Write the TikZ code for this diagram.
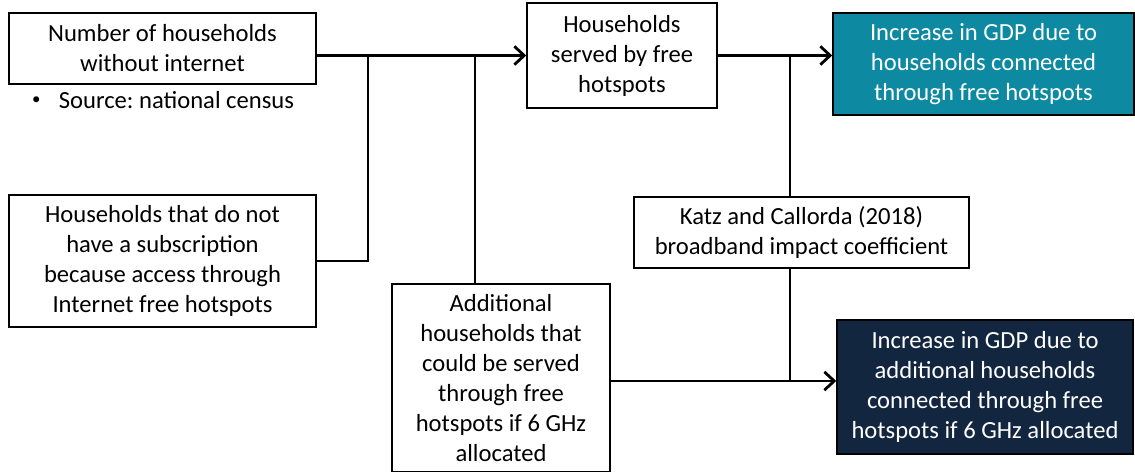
\documentclass[tikz,border=0pt]{standalone}
\usepackage{fontspec}
\setmainfont{Carlito}
\definecolor{gdpteal}{RGB}{14, 137, 162}
\definecolor{gdpnavy}{RGB}{19, 38, 64}
\usepackage{tikz}
\usetikzlibrary{arrows.meta, positioning, calc}
\frenchspacing

\begin{document}
\begin{tikzpicture}[
  x=0.025cm, y=-0.025cm,
  box/.style={draw, line width=1pt, align=center, inner sep=2pt, font=\fontsize{17.5}{21.3}\selectfont},
  gdpbox/.style={box, text=white, draw=black},
  link/.style={line width=2pt},
  arr/.style={link, -{Straight Barb[length=7pt, width=13pt, line width=2pt]}}
]
  \useasboundingbox (0,0) rectangle (1135,472);

  % inputs on the left
  \node[box, minimum width=7.675cm, minimum height=1.775cm] (nohh) at (162.5, 48.5)
    {Number of households\\without internet};
  \node[font=\fontsize{17.5}{21.3}\selectfont, anchor=center] (src) at (163, 100)
    {\raisebox{0.3ex}{\fontsize{12}{12}\selectfont\textbullet}\hspace{0.75em}Source: national census};
  \node[box, minimum width=7.675cm, minimum height=3.3cm] (nosub) at (162.5, 261)
    {Households that do not\\have a subscription\\because access through\\Internet free hotspots};

  % middle column
  \node[box, minimum width=4.75cm, minimum height=2.625cm] (served) at (622, 55.5)
    {Households\\served by free\\hotspots};
  \node[box, minimum width=5.45cm, minimum height=4.7cm] (extra) at (501, 378)
    {Additional\\households that\\could be served\\through free\\hotspots if 6 GHz\\allocated};
  \node[box, minimum width=8.375cm, minimum height=1.775cm] (katz) at (801.5, 232.5)
    {Katz and Callorda (2018)\\broadband impact coefficient};

  % results
  \node[gdpbox, fill=gdpteal, minimum width=7.525cm, minimum height=2.55cm] (gdpnow) at (983.5, 64)
    {Increase in GDP due to\\households connected\\through free hotspots};
  \node[gdpbox, fill=gdpnavy, minimum width=7.4cm, minimum height=3.35cm] (gdp6) at (985, 387)
    {Increase in GDP due to\\additional households\\connected through free\\hotspots if 6 GHz allocated};

  \coordinate (j1) at (368, 55.5);
  \coordinate (j2) at (475, 55.5);
  \coordinate (j3) at (790, 55.5);
  \coordinate (j4) at (790, 381);

  \draw[arr] (nohh.east |- served) -- (served.west);
  \draw[link] (nosub.east) -| (j1);
  \draw[link] (j2) -- (j2 |- extra.north);
  \draw[arr] (served.east) -- (served.east -| gdpnow.west);
  \draw[link] (j3) -- (j3 |- katz.north);
  \draw[link] (j4 |- katz.south) -- (j4);
  \draw[arr] (extra.east |- j4) -- (j4 -| gdp6.west);
\end{tikzpicture}
\end{document}
